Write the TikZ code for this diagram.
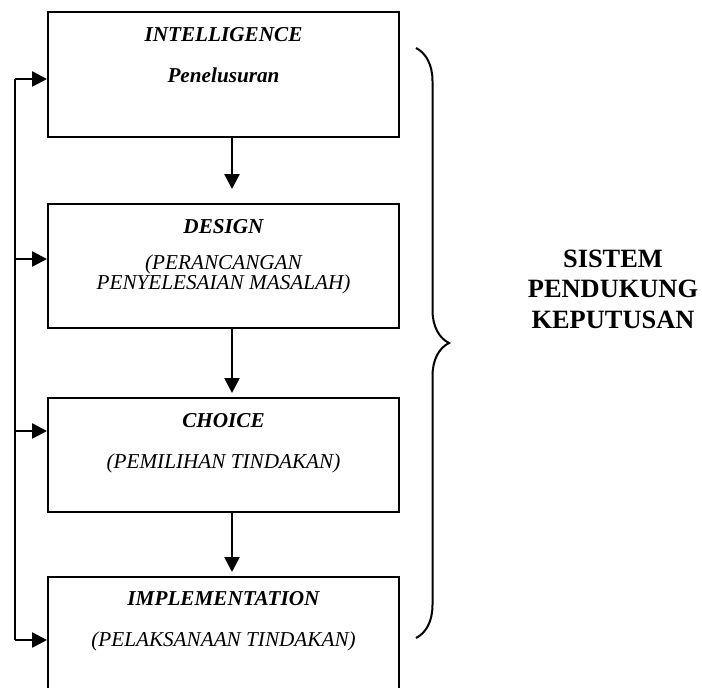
\documentclass[tikz,border=0pt]{standalone}
\usepackage{fontspec}
\setmainfont{Liberation Serif}
\usetikzlibrary{arrows.meta,calc,positioning,decorations.pathreplacing}

\begin{document}
\begin{tikzpicture}[x=0.5pt,y=-0.5pt,
                    >={Triangle[length=7.5pt,width=7.5pt]},
                    every node/.style={align=center}]
  \tikzstyle{box}=[draw=black,line width=1pt,minimum width=175.5pt,inner sep=0pt]
  \tikzstyle{ttl}=[anchor=base,font=\fontsize{10.6}{12}\selectfont\bfseries\itshape]
  \tikzstyle{sub}=[anchor=base,font=\fontsize{10.6}{10}\selectfont\itshape]
  \tikzstyle{flow}=[->,line width=1.3pt]

  \clip (0,0) rectangle (702,687);

  % the four phases
  \node[box,minimum height=62.5pt] (1) at (223.5,74.5) {};
  \node[box,minimum height=62pt]   (2) at (223.5,266) {};
  \node[box,minimum height=57pt]   (3) at (223.5,455) {};
  \node[box,minimum height=70pt]   (4) at (223.5,647) {};

  \node[ttl] (t1) at ($(1.north)+(0,30)$) {INTELLIGENCE};
  \node[ttl] (s1) at ($(1.north)+(0,71)$) {Penelusuran};
  \node[ttl] (t2) at ($(2.north)+(0,30)$) {DESIGN};
  \node[sub] (s2) at ($(2.north)+(0,66)$) {(PERANCANGAN};
  \node[sub] (s2b) at ($(2.north)+(0,86)$) {PENYELESAIAN MASALAH)};
  \node[ttl] (t3) at ($(3.north)+(0,30)$) {CHOICE};
  \node[sub] (s3) at ($(3.north)+(0,71)$) {(PEMILIHAN TINDAKAN)};
  \node[ttl] (t4) at ($(4.north)+(0,29)$) {IMPLEMENTATION};
  \node[sub] (s4) at ($(4.north)+(0,70)$) {(PELAKSANAAN TINDAKAN)};

  \draw[flow,shorten >=7pt] ([xshift=4.25pt]1.south) -- ([xshift=4.25pt]2.north);
  \draw[flow,shorten >=2pt] ([xshift=4.25pt]2.south) -- ([xshift=4.25pt]3.north);
  \draw[flow,shorten >=2pt] ([xshift=4.25pt]3.south) -- ([xshift=4.25pt]4.north);

  % feedback line on the left
  \coordinate (f1) at (15,79);
  \coordinate (f2) at (15,259);
  \coordinate (f3) at (15,431);
  \coordinate (f4) at (15,640);
  \draw[line width=1.3pt] (f1) -- (f4);
  \foreach \i in {1,2,3,4}
    \draw[flow] (f\i) -- (f\i -| \i.west);

  % brace and label
  \coordinate (bt) at (416,48);
  \coordinate (bb) at (416,638);
  \draw[line width=1pt,decorate,decoration={brace,amplitude=16.5pt}] (bt) -- (bb);
  \node[font=\fontsize{13.2}{15.3}\selectfont\bfseries] (spk) at (613,289)
    {SISTEM\\PENDUKUNG\\KEPUTUSAN};
\end{tikzpicture}
\end{document}
